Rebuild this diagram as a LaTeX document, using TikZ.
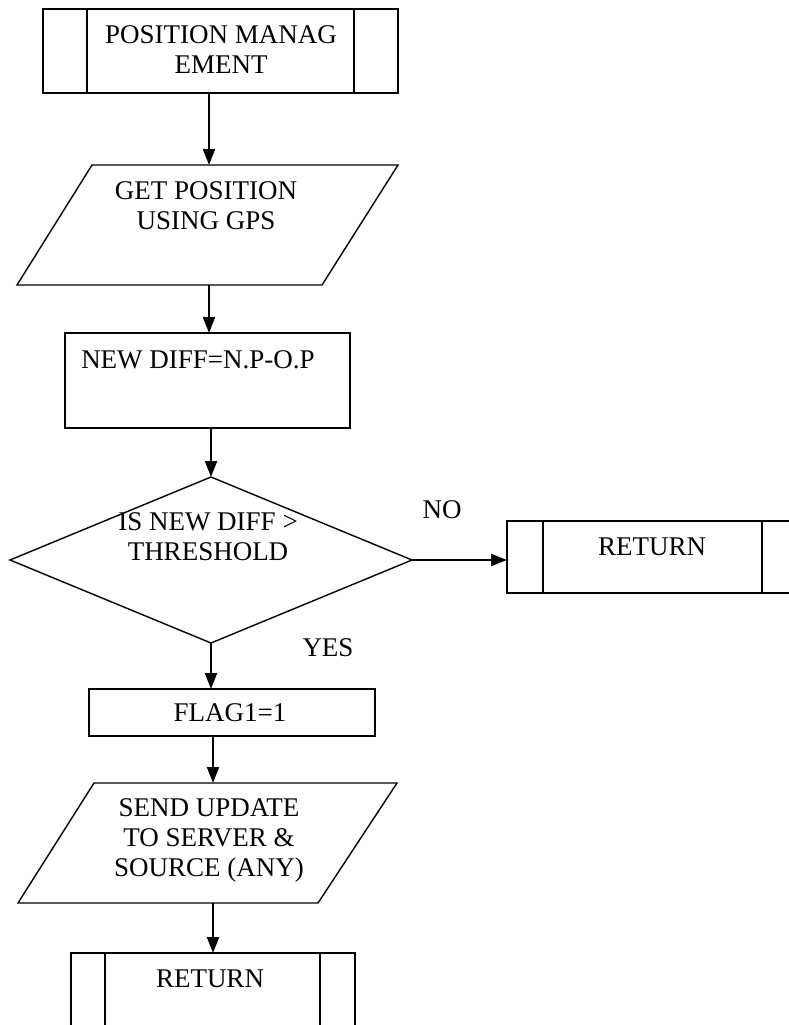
\documentclass[tikz,border=0pt]{standalone}
\usepackage{fontspec}
\setmainfont{Liberation Serif}
\usetikzlibrary{arrows.meta,shapes.geometric}
\begin{document}
\begin{tikzpicture}[x=1pt,y=-1pt,
  box/.style={draw,line width=1.4pt,inner sep=0pt,outer sep=0pt},
  holder/.style={inner sep=0pt,outer sep=0pt,minimum width=0pt},
  divider/.style={line width=2.4pt},
  outline/.style={line width=1.4pt,line join=miter},
  flowarrow/.style={line width=2pt,-{Triangle[length=16pt,width=12pt]}},
  txt/.style={inner sep=0pt,align=center,font=\fontsize{27}{30}\selectfont},
]
\useasboundingbox (0,0) rectangle (789,1025);
\clip (0,0) rectangle (789,1025);

% start: predefined process
\node[box,minimum width=355pt,minimum height=84pt] (start) at (220.5,51) {};
\draw[divider] ([xshift=44pt]start.north west) -- ([xshift=44pt]start.south west);
\draw[divider] ([xshift=-44pt]start.north east) -- ([xshift=-44pt]start.south east);
\node[txt] (starttext) at (221,50) {POSITION MANAG\\EMENT};

% input/output: get position
\node[holder,minimum height=120pt] (gps) at (209,225) {};
\draw[outline] (92,165) -- (398,165) -- (322,285) -- (17,285) -- cycle;
\node[txt] (gpstext) at (206,206) {GET POSITION\\USING GPS};

% process: difference
\node[box,minimum width=285pt,minimum height=95pt] (diff) at (207.5,380.5) {};
\node[txt] (difftext) at (198,360) {NEW DIFF=N.P-O.P};

% decision
\node[box,diamond,minimum width=402pt,minimum height=166pt] (dec) at (211,560) {};
\node[txt] (dectext) at (208,537) {IS NEW DIFF >\\THRESHOLD};

% return on the NO branch
\node[box,minimum width=293pt,minimum height=72pt] (ret1) at (653.5,557) {};
\draw[divider] ([xshift=36pt]ret1.north west) -- ([xshift=36pt]ret1.south west);
\draw[divider] ([xshift=255pt]ret1.north west) -- ([xshift=255pt]ret1.south west);
\node[txt] (ret1text) at (652,547) {RETURN};

% flag
\node[box,minimum width=286pt,minimum height=47pt] (flag) at (232,712.5) {};
\node[txt] (flagtext) at (230,713) {FLAG1=1};

% input/output: send update
\node[holder,minimum height=120pt] (send) at (213,843) {};
\draw[outline] (94,783) -- (397,783) -- (318,903) -- (18,903) -- cycle;
\node[txt] (sendtext) at (209,840) {SEND UPDATE\\TO SERVER \&\\SOURCE (ANY)};

% final return
\node[box,minimum width=284pt,minimum height=92pt] (ret2) at (213,999) {};
\draw[divider] ([xshift=34pt]ret2.north west) -- ([xshift=34pt]ret2.south west);
\draw[divider] ([xshift=249pt]ret2.north west) -- ([xshift=249pt]ret2.south west);
\node[txt] (ret2text) at (210,979) {RETURN};

% branch labels
\node[txt] (nolabel) at (442,510) {NO};
\node[txt] (yeslabel) at (328,648) {YES};

% connectors
\draw[flowarrow] (start.south -| gps.north) -- (gps.north);
\draw[flowarrow] (gps.south) -- (gps.south |- diff.north);
\draw[flowarrow] (dec.north |- diff.south) -- (dec.north);
\draw[flowarrow] (dec.east) -- (ret1.west |- dec.east);
\draw[flowarrow] (dec.south) -- (dec.south |- flag.north);
\draw[flowarrow] (send.north |- flag.south) -- (send.north);
\draw[flowarrow] (send.south) -- (send.south |- ret2.north);
\end{tikzpicture}
\end{document}
